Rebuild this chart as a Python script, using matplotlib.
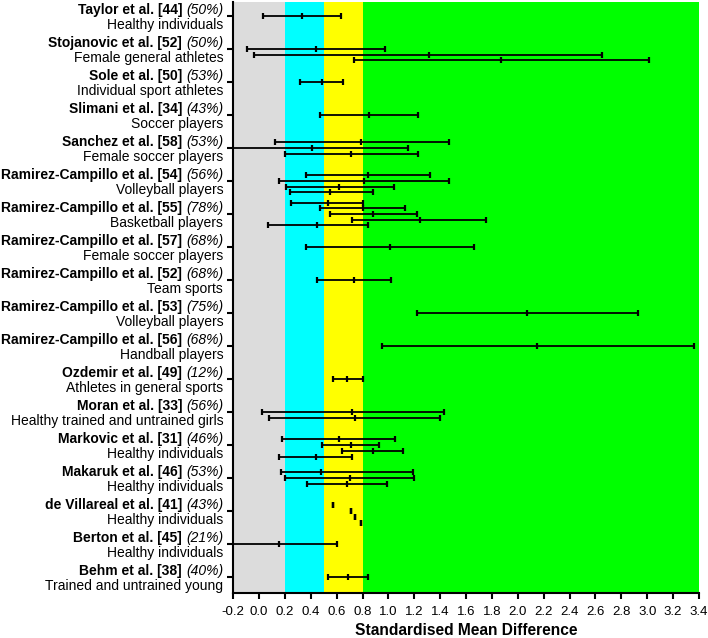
import matplotlib
matplotlib.use("Agg")
import matplotlib.pyplot as plt

plt.rcParams['font.family'] = ['Liberation Sans', 'DejaVu Sans']

studies = ["Taylor et al. [44]", "Stojanovic et al. [52]", "Sole et al. [50]",
           "Slimani et al. [34]", "Sanchez et al. [58]", "Ramirez-Campillo et al. [54]",
           "Ramirez-Campillo et al. [55]", "Ramirez-Campillo et al. [57]",
           "Ramirez-Campillo et al. [52]", "Ramirez-Campillo et al. [53]",
           "Ramirez-Campillo et al. [56]", "Ozdemir et al. [49]", "Moran et al. [33]",
           "Markovic et al. [31]", "Makaruk et al. [46]", "de Villareal et al. [41]",
           "Berton et al. [45]", "Behm et al. [38]"]
quality = ["(50%)", "(50%)", "(53%)", "(43%)", "(53%)", "(56%)", "(78%)", "(68%)",
           "(68%)", "(75%)", "(68%)", "(12%)", "(56%)", "(46%)", "(53%)", "(43%)",
           "(21%)", "(40%)"]
populations = ["Healthy individuals", "Female general athletes", "Individual sport athletes",
               "Soccer players", "Female soccer players", "Volleyball players",
               "Basketball players", "Female soccer players", "Team sports",
               "Volleyball players", "Handball players", "Athletes in general sports",
               "Healthy trained and untrained girls", "Healthy individuals",
               "Healthy individuals", "Healthy individuals", "Healthy individuals",
               "Trained and untrained young"]

smd = [[0.33], [0.44, 1.31, 1.87], [0.49], [0.85], [0.79, 0.41, 0.71],
       [0.84, 0.81, 0.62, 0.55], [0.53, 0.80, 0.88, 1.24, 0.45], [1.01], [0.73],
       [2.07], [2.15], [0.68], [0.72, 0.74], [0.62, 0.71, 0.88, 0.44],
       [0.48, 0.70, 0.68], [0.57, 0.71, 0.74, 0.79], [0.15], [0.69]]
ci_low = [[0.03], [-0.09, -0.04, 0.73], [0.32], [0.47], [0.12, -0.33, 0.20],
          [0.36, 0.15, 0.21, 0.24], [0.25, 0.47, 0.55, 0.72, 0.07], [0.36], [0.45],
          [1.22], [0.95], [0.57], [0.02, 0.08], [0.18, 0.49, 0.64, 0.15],
          [0.17, 0.20, 0.37], [0.57, 0.71, 0.74, 0.79], [-0.30], [0.53]]
ci_high = [[0.63], [0.97, 2.65, 3.01], [0.65], [1.23], [1.47, 1.15, 1.23],
           [1.32, 1.47, 1.04, 0.88], [0.80, 1.13, 1.22, 1.75, 0.84], [1.66], [1.02],
           [2.93], [3.36], [0.80], [1.43, 1.40], [1.05, 0.93, 1.11, 0.72],
           [1.19, 1.20, 0.99], [0.57, 0.71, 0.74, 0.79], [0.60], [0.84]]
row_shift = [[0], [0, 1, 2], [0], [0], [-1, 0, 1], [-1, 0, 1, 2], [-2, -1, 0, 1, 2],
             [0], [0], [0], [0], [0], [0, 1], [-1, 0, 1, 2], [-1, 0, 1], [-1, 0, 1, 2],
             [0], [0]]

band_edges = [-0.2, 0.2, 0.5, 0.8, 3.4]
band_colors = ['#dcdcdc', '#00ffff', '#ffff00', '#00ff00']
x_ticks = [round(-0.2 + 0.2 * k, 1) for k in range(19)]

STEP = 0.172

fig = plt.figure(figsize=(7.08, 6.38), dpi=100)
ax = fig.add_axes([0.3294, 0.0710, 0.6579, 0.9266])

for k, c in enumerate(band_colors):
    ax.axvspan(band_edges[k], band_edges[k + 1], color=c, lw=0, zorder=0)

for i in range(len(studies)):
    for m, lo, hi, s in zip(smd[i], ci_low[i], ci_high[i], row_shift[i]):
        y = i + s * STEP
        ax.errorbar([m], [y], xerr=[[m - lo], [hi - m]], fmt='none', ecolor='black',
                    elinewidth=1.3, capsize=2.1, capthick=1.6, zorder=3)
        ax.plot([m], [y], marker='|', color='black', markersize=4.2,
                markeredgewidth=1.6, zorder=4)

ax.set_xlim(band_edges[0], band_edges[-1])
ax.set_ylim(len(studies) - 1 + 0.47, -0.44)
ax.set_xticks(x_ticks)
ax.set_xticklabels([f"{v:.1f}" for v in x_ticks], fontsize=9.5)
ax.set_yticks(range(len(studies)))
ax.set_yticklabels([])
ax.tick_params(axis='both', direction='out', length=4.3, width=1.5, colors='black')
ax.tick_params(axis='x', pad=5)
for sp in ['top', 'right']:
    ax.spines[sp].set_visible(False)
for sp in ['left', 'bottom']:
    ax.spines[sp].set_linewidth(1.5)
    ax.spines[sp].set_zorder(5)

ax.set_xlabel("Standardised Mean Difference", fontsize=11.2, fontweight='bold', labelpad=4)

for i in range(len(studies)):
    t_it = ax.annotate(quality[i], xy=(0, i), xycoords=('axes fraction', 'data'),
                       xytext=(-10, 2), textcoords='offset pixels', ha='right',
                       va='baseline', fontsize=10, style='italic')
    ax.annotate(studies[i], xy=(0, 0), xycoords=t_it, xytext=(-4, 0),
                textcoords='offset pixels', ha='right', va='bottom', fontsize=10,
                fontweight='bold')
    ax.annotate(populations[i], xy=(0, i), xycoords=('axes fraction', 'data'),
                xytext=(-10, -13), textcoords='offset pixels', ha='right',
                va='baseline', fontsize=10)

fig.savefig("out.png", dpi=100)
